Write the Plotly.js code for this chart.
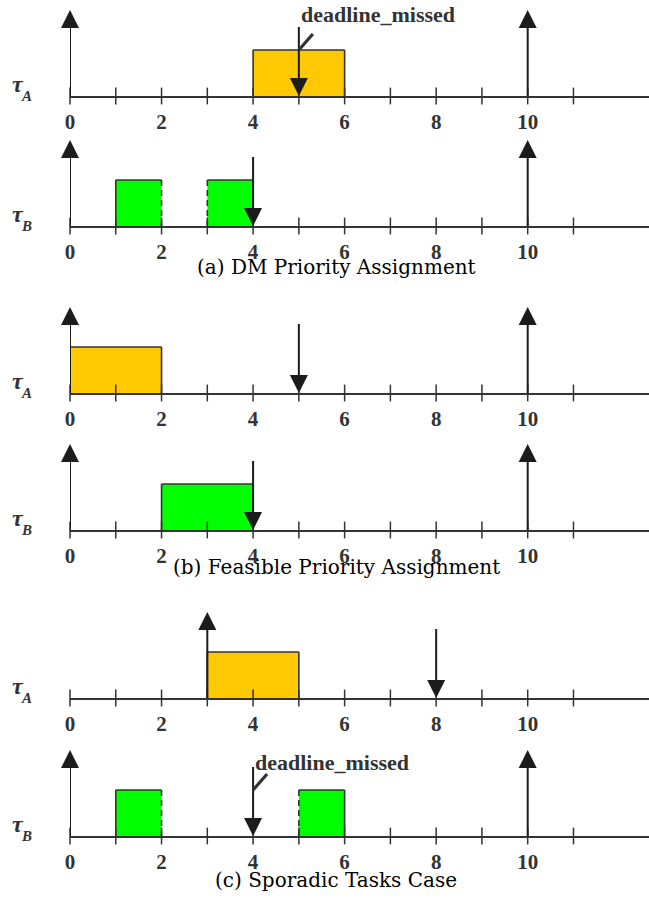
<!DOCTYPE html>
<html>
<head>
<meta charset="utf-8">
<script src="https://cdn.plot.ly/plotly-3.0.1.min.js"></script>
<style>
  html, body { margin: 0; padding: 0; background: #fff; }
  #chart { width: 649px; height: 898px; }
</style>
</head>
<body>
<div id="chart"></div>
<script>
// ---- Schedule data -------------------------------------------------------
// Time axis: a mark at every slot, a label at every other one
const timeSlots = [0, 1, 2, 3, 4, 5, 6, 7, 8, 9, 10, 11];
const labelledTimes = [0, 2, 4, 6, 8, 10];
const timeLabels = ['0', '2', '4', '6', '8', '10'];

const captions = [
  '(a) DM Priority Assignment',
  '(b) Feasible Priority Assignment',
  '(c) Sporadic Tasks Case'
];

// One timeline per task per schedule, top to bottom: (a) A, B, (b) A, B, (c) A, B
const rowTasks = ['A', 'B', 'A', 'B', 'A', 'B'];

// Execution slices of each timeline
const execStart = [[4], [1, 3], [0], [2], [3], [1, 5]];
const execEnd   = [[6], [2, 4], [2], [4], [5], [2, 6]];
// Slices interrupted at their end / resumed at their start (drawn dashed)
const preemptedAtEnd = [[false], [true, false], [false], [false], [false], [true, false]];
const resumedAtStart = [[false], [false, true], [false], [false], [false], [false, true]];

// Job releases (up arrows) and absolute deadlines (down arrows)
const releaseTimes  = [[0, 10], [0, 10], [0, 10], [0, 10], [3], [0, 10]];
const deadlineTimes = [[5], [4], [5], [4], [8], [4]];
const missedDeadlines = [[5], [], [], [], [], [4]];

// ---- Drawing -------------------------------------------------------------
const W = 649, H = 898, LEFT = 70;
const PX_PER_T = 45.77;          // horizontal scale
const PX_PER_Y = 46;             // one unit = height of an execution slice
const ROW_BASE = [96, 226, 393, 530, 698, 836];   // baseline of each timeline (px from top)
const ROW_H = 90;
const SLICE_TOP = 1;
const RELEASE_TOP = 86 / PX_PER_Y;
const DEADLINE_TOP = 69 / PX_PER_Y;
const CAPTION_Y = [267, 567, 880];
const MISSED_LABEL_LIFT = [81, 0, 0, 0, 0, 74];

const SERIF = '"Liberation Serif", "Times New Roman", Times, serif';
const INK = '#333';
const ARROW_INK = '#1c1c1c';
const taskColor = { A: '#FFC800', B: '#00FF00' };

const traces = [];
const shapes = [];
const annotations = [];
const layout = {
  width: W, height: H,
  margin: { l: LEFT, r: 0, t: 0, b: 0 },
  paper_bgcolor: '#fff', plot_bgcolor: 'rgba(0,0,0,0)',
  showlegend: false,
  hovermode: false
};

rowTasks.forEach((task, i) => {
  const s = i === 0 ? '' : String(i + 1);
  const xa = 'x' + s, ya = 'y' + s;

  layout['xaxis' + s] = {
    domain: [0, 1], anchor: ya,
    range: [0, (W - LEFT) / PX_PER_T],
    showline: true, linecolor: INK, linewidth: 2,
    showgrid: false, zeroline: false,
    tickmode: 'array', tickvals: labelledTimes, ticktext: timeLabels,
    ticks: '', ticklabelstandoff: 6,
    tickfont: { family: SERIF, size: 21, color: INK, weight: 'bold' },
    fixedrange: true
  };
  layout['yaxis' + s] = {
    domain: [(H - ROW_BASE[i]) / H, (H - ROW_BASE[i] + ROW_H) / H],
    anchor: xa,
    range: [0, ROW_H / PX_PER_Y],
    visible: false, fixedrange: true
  };

  // execution slices: fill plus outline (dashed where the job was preempted)
  const fx = [], fy = [];
  const solidX = [], solidY = [], dashX = [], dashY = [];
  execStart[i].forEach((t0, k) => {
    const t1 = execEnd[i][k];
    fx.push(t0, t0, t1, t1, t0, null);
    fy.push(0, SLICE_TOP, SLICE_TOP, 0, 0, null);
    solidX.push(t0, t1, null); solidY.push(SLICE_TOP, SLICE_TOP, null);
    (resumedAtStart[i][k] ? dashX : solidX).push(t0, t0, null);
    (resumedAtStart[i][k] ? dashY : solidY).push(0, SLICE_TOP, null);
    (preemptedAtEnd[i][k] ? dashX : solidX).push(t1, t1, null);
    (preemptedAtEnd[i][k] ? dashY : solidY).push(0, SLICE_TOP, null);
  });
  traces.push({
    type: 'scatter', mode: 'lines', xaxis: xa, yaxis: ya,
    x: fx, y: fy, fill: 'toself', fillcolor: taskColor[task],
    line: { width: 0 }, hoverinfo: 'skip'
  });
  traces.push({
    type: 'scatter', mode: 'lines', xaxis: xa, yaxis: ya,
    x: solidX, y: solidY, line: { color: INK, width: 1.6 }, hoverinfo: 'skip'
  });
  if (dashX.length) {
    traces.push({
      type: 'scatter', mode: 'lines', xaxis: xa, yaxis: ya,
      x: dashX, y: dashY, line: { color: INK, width: 1.6, dash: '6px,4px' }, hoverinfo: 'skip'
    });
  }

  // slot marks crossing the time axis
  traces.push({
    type: 'scatter', mode: 'markers', xaxis: xa, yaxis: ya, cliponaxis: false,
    x: timeSlots, y: timeSlots.map(() => 0),
    marker: { symbol: 'line-ns-open', size: 12, color: INK, line: { color: INK, width: 1.5 } },
    hoverinfo: 'skip'
  });

  // releases
  const rx = [], ry = [];
  releaseTimes[i].forEach(t => { rx.push(t, t, null); ry.push(0, RELEASE_TOP - 0.1, null); });
  traces.push({
    type: 'scatter', mode: 'lines', xaxis: xa, yaxis: ya, cliponaxis: false,
    x: rx, y: ry, line: { color: ARROW_INK, width: 2 }, hoverinfo: 'skip'
  });
  traces.push({
    type: 'scatter', mode: 'markers', xaxis: xa, yaxis: ya, cliponaxis: false,
    x: releaseTimes[i], y: releaseTimes[i].map(() => RELEASE_TOP),
    marker: { symbol: 'arrow-up', size: 18, color: ARROW_INK, line: { width: 0 } },
    hoverinfo: 'skip'
  });

  // deadlines
  const dx = [], dy = [];
  deadlineTimes[i].forEach(t => { dx.push(t, t, null); dy.push(DEADLINE_TOP, 0.1, null); });
  traces.push({
    type: 'scatter', mode: 'lines', xaxis: xa, yaxis: ya, cliponaxis: false,
    x: dx, y: dy, line: { color: ARROW_INK, width: 2 }, hoverinfo: 'skip'
  });
  traces.push({
    type: 'scatter', mode: 'markers', xaxis: xa, yaxis: ya, cliponaxis: false,
    x: deadlineTimes[i], y: deadlineTimes[i].map(() => 0),
    marker: { symbol: 'arrow-down', size: 18, color: ARROW_INK, line: { width: 0 } },
    hoverinfo: 'skip'
  });

  // missed deadline callout
  missedDeadlines[i].forEach(t => {
    shapes.push({
      type: 'line', xref: xa, yref: ya, layer: 'above',
      x0: t, y0: SLICE_TOP, x1: t + 14 / PX_PER_T, y1: 62 / PX_PER_Y,
      line: { color: INK, width: 3.2 }
    });
    annotations.push({
      xref: xa, yref: ya, x: t, y: MISSED_LABEL_LIFT[i] / PX_PER_Y,
      xanchor: 'left', yanchor: 'middle', xshift: 0, showarrow: false,
      text: 'deadline_missed',
      font: { family: SERIF, size: 22, color: INK, weight: 'bold' }
    });
  });

  // task name: tau with subscript
  annotations.push({
    xref: 'paper', yref: ya, x: (10 - LEFT) / (W - LEFT), y: 0,
    xanchor: 'left', yanchor: 'middle', yshift: 12, showarrow: false,
    text: 'τ',
    font: { family: SERIF, size: 24, color: INK, weight: 'bold', style: 'italic' }
  });
  annotations.push({
    xref: 'paper', yref: ya, x: (19 - LEFT) / (W - LEFT), y: 0,
    xanchor: 'left', yanchor: 'middle', yshift: 0, showarrow: false,
    text: task,
    font: { family: SERIF, size: 15, color: INK, weight: 'bold', style: 'italic' }
  });
});

// schedule captions
captions.forEach((c, j) => {
  annotations.push({
    xref: 'paper', yref: 'paper',
    x: (336 - LEFT) / (W - LEFT), y: (H - CAPTION_Y[j]) / H,
    xanchor: 'center', yanchor: 'middle', showarrow: false,
    text: c,
    font: { family: '"DejaVu Serif", serif', size: 20, color: '#000' }
  });
});

layout.shapes = shapes;
layout.annotations = annotations;

Plotly.newPlot('chart', traces, layout, { staticPlot: true, displayModeBar: false });
</script>
</body>
</html>
